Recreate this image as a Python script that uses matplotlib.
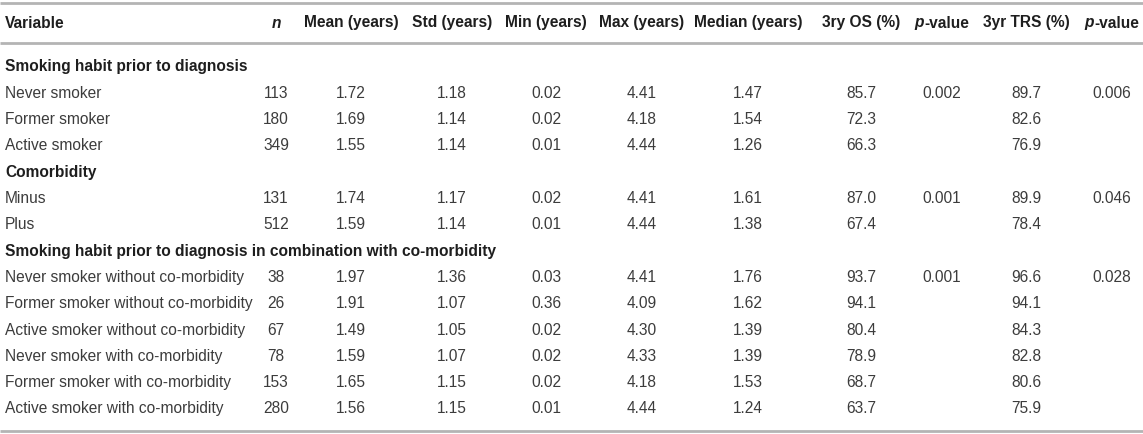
import matplotlib
matplotlib.use("Agg")
import matplotlib.pyplot as plt

# table content
sections = [
    "Smoking habit prior to diagnosis",
    "Comorbidity",
    "Smoking habit prior to diagnosis in combination with co-morbidity",
]
variables = [
    ["Never smoker", "Former smoker", "Active smoker"],
    ["Minus", "Plus"],
    ["Never smoker without co-morbidity", "Former smoker without co-morbidity",
     "Active smoker without co-morbidity", "Never smoker with co-morbidity",
     "Former smoker with co-morbidity", "Active smoker with co-morbidity"],
]
n_vals = [[113, 180, 349], [131, 512], [38, 26, 67, 78, 153, 280]]
mean_vals = [["1.72", "1.69", "1.55"], ["1.74", "1.59"],
             ["1.97", "1.91", "1.49", "1.59", "1.65", "1.56"]]
std_vals = [["1.18", "1.14", "1.14"], ["1.17", "1.14"],
            ["1.36", "1.07", "1.05", "1.07", "1.15", "1.15"]]
min_vals = [["0.02", "0.02", "0.01"], ["0.02", "0.01"],
            ["0.03", "0.36", "0.02", "0.02", "0.02", "0.01"]]
max_vals = [["4.41", "4.18", "4.44"], ["4.41", "4.44"],
            ["4.41", "4.09", "4.30", "4.33", "4.18", "4.44"]]
median_vals = [["1.47", "1.54", "1.26"], ["1.61", "1.38"],
               ["1.76", "1.62", "1.39", "1.39", "1.53", "1.24"]]
os_vals = [["85.7", "72.3", "66.3"], ["87.0", "67.4"],
           ["93.7", "94.1", "80.4", "78.9", "68.7", "63.7"]]
p_os = ["0.002", "0.001", "0.001"]
trs_vals = [["89.7", "82.6", "76.9"], ["89.9", "78.4"],
            ["96.6", "94.1", "84.3", "82.8", "80.6", "75.9"]]
p_trs = ["0.006", "0.046", "0.028"]

headers = ["n", "Mean (years)", "Std (years)", "Min (years)", "Max (years)",
           "Median (years)", "3ry OS (%)", "p-value", "3yr TRS (%)", "p-value"]

W, H = 1143, 434
plt.rcParams['font.family'] = ['Liberation Sans', 'DejaVu Sans']
FS = 11.2
body_col = "#3c3c3c"
head_col = "#1e1e1e"
line_col = "#b4b4b4"

fig = plt.figure(figsize=(W / 100, H / 100), dpi=100)
ax = fig.add_axes([0, 0, 1, 1])
ax.set_xlim(0, W)
ax.set_ylim(H, 0)
ax.axis("off")

col_x = [276, 351, 452, 546, 642, 748, 861, 942, 1026, 1112]
header_y = 23
row_h = 26.3

# rules
for y in (3, 43, 431):
    ax.plot([0, W], [y, y], color=line_col, lw=2, solid_capstyle="butt")

ax.text(5, header_y, "Variable", fontsize=FS, fontweight="bold", color=head_col,
        ha="left", va="center")

renderer = fig.canvas.get_renderer()
for x, h in zip(col_x, headers):
    if h == "n":
        ax.text(x, header_y, h, fontsize=FS, fontweight="bold", style="italic",
                color=head_col, ha="center", va="center")
    elif h == "p-value":
        # italic p + bold rest, centred together
        t1 = ax.text(0, header_y, "p", fontsize=FS, fontweight="bold", style="italic",
                     color=head_col, ha="left", va="center")
        t2 = ax.text(0, header_y, "-value", fontsize=FS, fontweight="bold",
                     color=head_col, ha="left", va="center")
        w1 = t1.get_window_extent(renderer).width
        w2 = t2.get_window_extent(renderer).width
        left = x - (w1 + w2) / 2
        t1.set_x(left)
        t2.set_x(left + w1)
    else:
        ax.text(x, header_y, h, fontsize=FS, fontweight="bold", color=head_col,
                ha="center", va="center")

y = 67
for s, sec in enumerate(sections):
    ax.text(5, y, sec, fontsize=FS, fontweight="bold", color=head_col,
            ha="left", va="center")
    y += row_h
    for i, name in enumerate(variables[s]):
        ax.text(5, y, name, fontsize=FS, color=body_col, ha="left", va="center")
        cells = [str(n_vals[s][i]), mean_vals[s][i], std_vals[s][i], min_vals[s][i],
                 max_vals[s][i], median_vals[s][i], os_vals[s][i],
                 p_os[s] if i == 0 else "", trs_vals[s][i],
                 p_trs[s] if i == 0 else ""]
        for x, c in zip(col_x, cells):
            if c:
                ax.text(x, y, c, fontsize=FS, color=body_col, ha="center", va="center")
        y += row_h

fig.savefig("out.png", dpi=100)
